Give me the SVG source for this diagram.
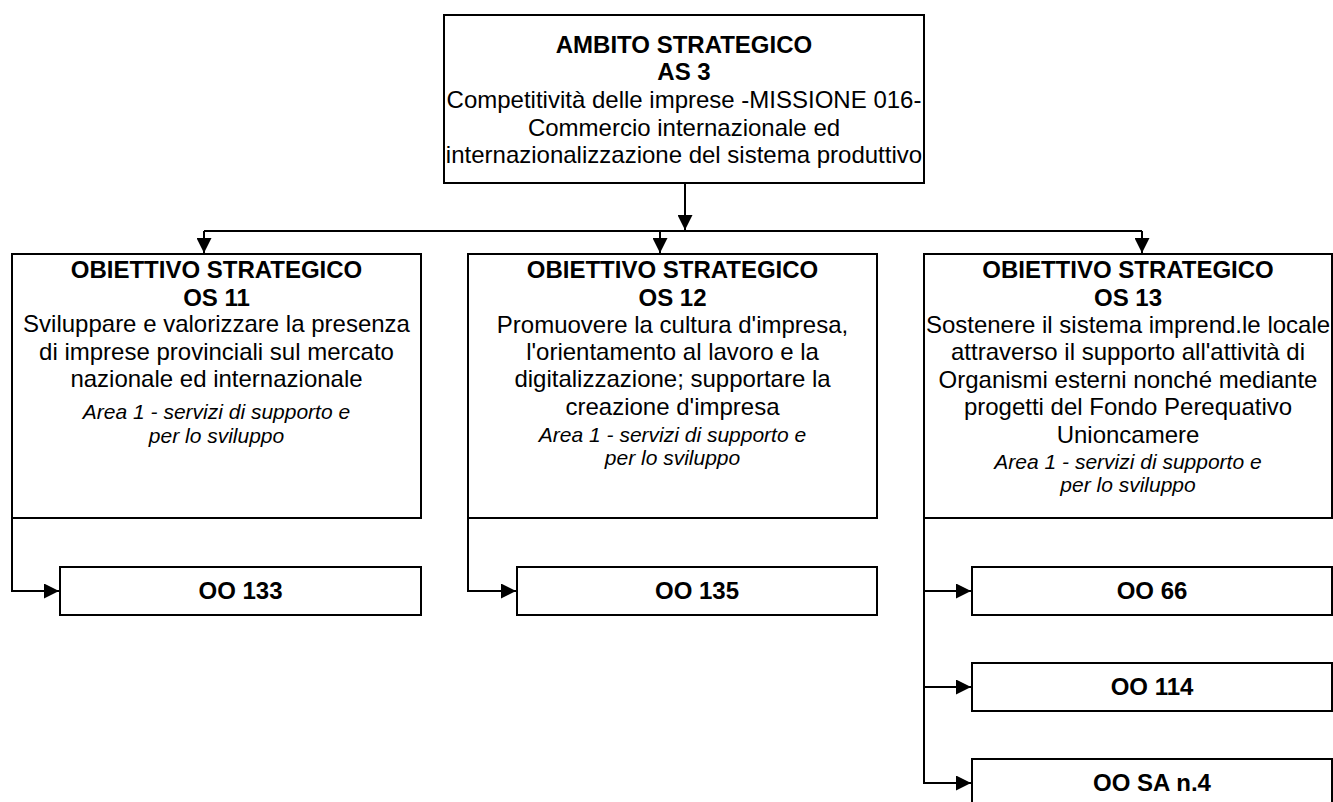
<svg xmlns="http://www.w3.org/2000/svg" width="1333" height="802" viewBox="0 0 1333 802">
<defs>
<style>
.box{fill:#fff;stroke:#000;stroke-width:2}
.t{font-family:"Liberation Sans",Arial,sans-serif;font-size:24px;fill:#000;text-anchor:middle}
.b{font-weight:bold}
.i{font-style:italic;font-size:21px}
.c{fill:none;stroke:#000;stroke-width:2}
</style>
<marker id="arr" viewBox="0 0 15 15" refX="15" refY="7.5" markerWidth="15" markerHeight="15" markerUnits="userSpaceOnUse" orient="auto">
<path d="M0,0 L15,7.5 L0,15 z" fill="#000"/>
</marker>
</defs>
<rect width="1333" height="802" fill="#fff"/>
<g id="connectors">
<path class="c" d="M685,183 V230" marker-end="url(#arr)"/>
<path class="c" d="M204,231 H1142"/>
<path class="c" d="M204,231 V253" marker-end="url(#arr)"/>
<path class="c" d="M660,231 V253" marker-end="url(#arr)"/>
<path class="c" d="M1142,231 V253" marker-end="url(#arr)"/>
<path class="c" d="M12,518 V591 H59" marker-end="url(#arr)"/>
<path class="c" d="M468,518 V591 H516" marker-end="url(#arr)"/>
<path class="c" d="M924,518 V783 H971" marker-end="url(#arr)"/>
<path class="c" d="M924,591 H971" marker-end="url(#arr)"/>
<path class="c" d="M924,687 H971" marker-end="url(#arr)"/>
</g>
<g id="as3">
<rect class="box" x="444" y="15" width="480" height="168"/>
<text class="t b" x="684" y="53">AMBITO STRATEGICO</text>
<text class="t b" x="684" y="80">AS 3</text>
<text class="t" x="684" y="108">Competitività delle imprese -MISSIONE 016-</text>
<text class="t" x="684" y="136">Commercio internazionale ed</text>
<text class="t" x="684" y="163">internazionalizzazione del sistema produttivo</text>
</g>
<g id="os11">
<rect class="box" x="12" y="254" width="409" height="264"/>
<text class="t b" x="216.5" y="278">OBIETTIVO STRATEGICO</text>
<text class="t b" x="216.5" y="306">OS 11</text>
<text class="t" x="216.5" y="332">Sviluppare e valorizzare la presenza</text>
<text class="t" x="216.5" y="360">di imprese provinciali sul mercato</text>
<text class="t" x="216.5" y="387">nazionale ed internazionale</text>
<text class="t i" x="216.5" y="419">Area 1 - servizi di supporto e</text>
<text class="t i" x="216.5" y="443">per lo sviluppo</text>
</g>
<g id="os12">
<rect class="box" x="468" y="254" width="409" height="264"/>
<text class="t b" x="672.5" y="278">OBIETTIVO STRATEGICO</text>
<text class="t b" x="672.5" y="306">OS 12</text>
<text class="t" x="672.5" y="333">Promuovere la cultura d'impresa,</text>
<text class="t" x="672.5" y="360">l'orientamento al lavoro e la</text>
<text class="t" x="672.5" y="387">digitalizzazione; supportare la</text>
<text class="t" x="672.5" y="415">creazione d'impresa</text>
<text class="t i" x="672.5" y="442">Area 1 - servizi di supporto e</text>
<text class="t i" x="672.5" y="465">per lo sviluppo</text>
</g>
<g id="os13">
<rect class="box" x="924" y="254" width="408" height="264"/>
<text class="t b" x="1128" y="278">OBIETTIVO STRATEGICO</text>
<text class="t b" x="1128" y="306">OS 13</text>
<text class="t" x="1128" y="333">Sostenere il sistema imprend.le locale</text>
<text class="t" x="1128" y="360">attraverso il supporto all'attività di</text>
<text class="t" x="1128" y="388">Organismi esterni nonché mediante</text>
<text class="t" x="1128" y="415">progetti del Fondo Perequativo</text>
<text class="t" x="1128" y="443">Unioncamere</text>
<text class="t i" x="1128" y="469">Area 1 - servizi di supporto e</text>
<text class="t i" x="1128" y="492">per lo sviluppo</text>
</g>
<g id="oo133">
<rect class="box" x="60" y="567" width="361" height="48"/>
<text class="t b" x="240.5" y="599">OO 133</text>
</g>
<g id="oo135">
<rect class="box" x="517" y="567" width="360" height="48"/>
<text class="t b" x="697" y="599">OO 135</text>
</g>
<g id="oo66">
<rect class="box" x="972" y="567" width="360" height="48"/>
<text class="t b" x="1152" y="599">OO 66</text>
</g>
<g id="oo114">
<rect class="box" x="972" y="663" width="360" height="48"/>
<text class="t b" x="1152" y="695">OO 114</text>
</g>
<g id="oosa4">
<rect class="box" x="972" y="759" width="360" height="48"/>
<text class="t b" x="1152" y="791">OO SA n.4</text>
</g>
</svg>
